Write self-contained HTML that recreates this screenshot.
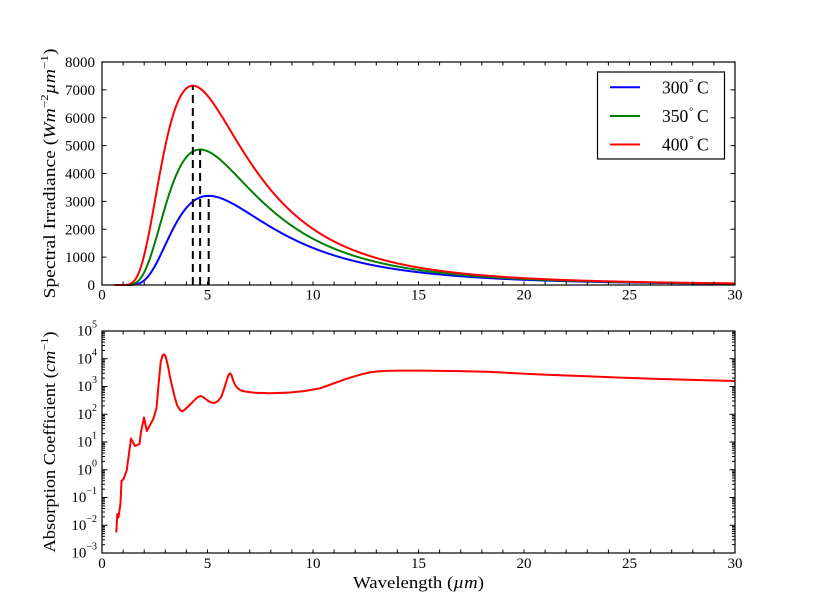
<!DOCTYPE html>
<html><head><meta charset="utf-8">
<style>
html,body{margin:0;padding:0;background:#fff;}
svg{display:block;font-family:"Liberation Serif","DejaVu Serif",serif;}
</style></head>
<body>
<svg id="s" width="815" height="615" viewBox="0 0 815 615" xmlns="http://www.w3.org/2000/svg">
<rect x="0" y="0" width="815" height="615" fill="#fff"/>
<g id="curves1" fill="none" stroke-width="2" stroke-linejoin="round"></g>
<g id="dashes" stroke="#000" stroke-width="2" stroke-dasharray="8 5"></g>
<polyline id="absorb" fill="none" stroke="#ff0000" stroke-width="2" stroke-linejoin="round" points=""/>
<g id="ticks" stroke="#000" stroke-width="1"></g>
<rect x="102" y="62" width="633" height="223" fill="none" stroke="#000" stroke-width="1.2"/>
<rect x="102" y="331" width="633" height="222" fill="none" stroke="#000" stroke-width="1.2"/>

<!-- top y tick labels -->
<g font-size="15" text-anchor="end" fill="#000">
<text x="95" y="290">0</text>
<text x="95" y="262.1">1000</text>
<text x="95" y="234.3">2000</text>
<text x="95" y="206.4">3000</text>
<text x="95" y="178.5">4000</text>
<text x="95" y="150.6">5000</text>
<text x="95" y="122.8">6000</text>
<text x="95" y="94.9">7000</text>
<text x="95" y="67">8000</text>
</g>
<!-- top x tick labels -->
<g font-size="15" text-anchor="middle" fill="#000">
<text x="102" y="299.5">0</text>
<text x="207.5" y="299.5">5</text>
<text x="313" y="299.5">10</text>
<text x="418.5" y="299.5">15</text>
<text x="524" y="299.5">20</text>
<text x="629.5" y="299.5">25</text>
<text x="735" y="299.5">30</text>
</g>
<!-- bottom x tick labels -->
<g font-size="15" text-anchor="middle" fill="#000">
<text x="102" y="568">0</text>
<text x="207.5" y="568">5</text>
<text x="313" y="568">10</text>
<text x="418.5" y="568">15</text>
<text x="524" y="568">20</text>
<text x="629.5" y="568">25</text>
<text x="735" y="568">30</text>
</g>
<!-- log y tick labels -->
<g font-size="15" text-anchor="end" fill="#000">
<text x="97" y="335.5">10<tspan font-size="10" dy="-8">5</tspan></text>
<text x="97" y="363.25">10<tspan font-size="10" dy="-8">4</tspan></text>
<text x="97" y="391">10<tspan font-size="10" dy="-8">3</tspan></text>
<text x="97" y="418.75">10<tspan font-size="10" dy="-8">2</tspan></text>
<text x="97" y="446.5">10<tspan font-size="10" dy="-8">1</tspan></text>
<text x="97" y="474.25">10<tspan font-size="10" dy="-8">0</tspan></text>
<text x="97" y="502">10<tspan font-size="10" dy="-8">−1</tspan></text>
<text x="97" y="529.75">10<tspan font-size="10" dy="-8">−2</tspan></text>
<text x="97" y="557.5">10<tspan font-size="10" dy="-8">−3</tspan></text>
</g>

<!-- axis labels -->
<text transform="translate(55,173.5) rotate(-90)" text-anchor="middle" font-size="16.5" textLength="250" lengthAdjust="spacingAndGlyphs">Spectral Irradiance (<tspan font-style="italic">Wm</tspan><tspan font-size="11" dy="-7">−2</tspan><tspan font-style="italic" dy="7">µm</tspan><tspan font-size="11" dy="-7">−1</tspan><tspan dy="7">)</tspan></text>
<text transform="translate(55,442) rotate(-90)" text-anchor="middle" font-size="16.5" textLength="221" lengthAdjust="spacingAndGlyphs">Absorption Coefficient (<tspan font-style="italic">cm</tspan><tspan font-size="11" dy="-7">−1</tspan><tspan dy="7">)</tspan></text>
<text x="418.5" y="588" text-anchor="middle" font-size="16.5" textLength="131" lengthAdjust="spacingAndGlyphs">Wavelength (<tspan font-style="italic">µm</tspan>)</text>

<!-- legend -->
<rect x="597.5" y="72" width="127" height="87" fill="#fff" stroke="#000" stroke-width="1.2"/>
<line x1="610" y1="87.3" x2="640" y2="87.3" stroke="#0000ff" stroke-width="2"/>
<line x1="610" y1="116" x2="640" y2="116" stroke="#008000" stroke-width="2"/>
<line x1="610" y1="144.5" x2="640" y2="144.5" stroke="#ff0000" stroke-width="2"/>
<g font-size="17.5" fill="#000">
<text x="662" y="93.3">300</text><text x="689" y="86" font-size="11">°</text><text x="697" y="93.3">C</text>
<text x="662" y="122">350</text><text x="689" y="114.7" font-size="11">°</text><text x="697" y="122">C</text>
<text x="662" y="150.5">400</text><text x="689" y="143.2" font-size="11">°</text><text x="697" y="150.5">C</text>
</g>
</svg>
<script>
(function(){
var NS="http://www.w3.org/2000/svg";
var L=102,R=735,sx=(R-L)/30;
function X(l){return L+l*sx;}
var T1=62,B1=285,T2=331,B2=553;
function Y1(v){return B1-v*(B1-T1)/8000;}
function E(l,T){return 4.02*3.7418e8/Math.pow(l,5)/(Math.exp(14388/(l*T))-1);}
function el(tag,attrs,parent){var e=document.createElementNS(NS,tag);for(var k in attrs)e.setAttribute(k,attrs[k]);parent.appendChild(e);return e;}
var cg=document.getElementById("curves1");
var sets=[[573.15,"#0000ff"],[623.15,"#008000"],[673.15,"#ff0000"]];
sets.forEach(function(s){
  var pts=[];
  for(var l=0.6;l<=30.0001;l+=0.02){pts.push(X(l).toFixed(2)+","+Y1(E(l,s[0])).toFixed(2));}
  el("polyline",{points:pts.join(" "),stroke:s[1]},cg);
});
var dg=document.getElementById("dashes");
sets.slice().reverse().forEach(function(s){
  var lm=2897.8/s[0];
  el("line",{x1:X(lm),x2:X(lm),y1:B1,y2:Y1(E(lm,s[0]))},dg);
});
var ap=[[116.3,532.5],[117.3,514],[118.5,517.5],[120.5,503],[121.5,481],[123.5,479],[126.7,470.5],[131,438.5],[135,446],[139.5,444],[141,432],[144,417.5],[146.8,431],[150,425],[153.3,419],[156.5,408],[158.5,385],[160.7,362],[162.5,355.5],[164,354.3],[165.5,356],[168,366],[170,377],[172.3,387],[175,398],[177,405],[180,410],[182,411.5],[185,409.5],[188,406.5],[191.7,403],[195,399.5],[198,397],[200.5,396],[203,397],[207,400],[211,402.5],[214.5,403],[218,401],[221.5,396.5],[224,389],[226.5,381],[228.5,375],[230,373.3],[231.5,375],[233,380],[235,385],[238,388.5],[241,390.5],[245,391.5],[255,392.8],[270,393.3],[290,392.5],[305,391],[313,389.5],[320,388.3],[328,385.5],[336.7,382.3],[345,379.3],[353.3,376.7],[362,374.2],[370,372.4],[378,371.4],[386.7,370.9],[400,370.6],[420,370.6],[453,371],[487,371.8],[520,373.5],[553,375],[587,376.3],[620,377.6],[653,378.7],[687,379.7],[735,381]];
document.getElementById("absorb").setAttribute("points",ap.map(function(p){return p[0]+","+p[1];}).join(" "));
var tg=document.getElementById("ticks");
function tk(x1,y1,x2,y2){el("line",{x1:x1,y1:y1,x2:x2,y2:y2},tg);}
for(var i=0;i<=30;i++){
  var x=X(i);
  tk(x,B1,x,B1-3.5);tk(x,T1,x,T1+3.5);
  tk(x,B2,x,B2-3.5);tk(x,T2,x,T2+3.5);
}
for(var v=0;v<=8000;v+=1000){var y=Y1(v);tk(L,y,L+4.5,y);tk(R,y,R-4.5,y);}
var dec=(B2-T2)/8;
for(var d=-3;d<=5;d++){
  var y=B2-(d+3)*dec;
  tk(L,y,L+5.5,y);tk(R,y,R-5.5,y);
  if(d<5){for(var k=2;k<=9;k++){var yy=y-Math.log10(k)*dec;tk(L,yy,L+3,yy);tk(R,yy,R-3,yy);}}
}
})();
</script>
</body></html>
